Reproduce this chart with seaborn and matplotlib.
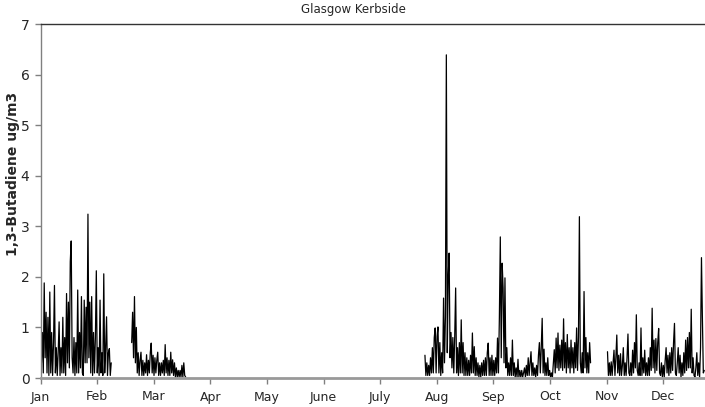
import numpy as np
import pandas as pd
import matplotlib
matplotlib.use("Agg")
import matplotlib.pyplot as plt
import seaborn as sns

# ---- data (values in ug/m3, half-day samples) ----
months = ["Jan", "Feb", "Mar", "Apr", "May", "June", "July",
          "Aug", "Sep", "Oct", "Nov", "Dec"]
yticks = [0, 1, 2, 3, 4, 5, 6, 7]

block_start_days = [0.5, 49.0, 206.6, 304.7]
sample_step_days = 0.5

jan_feb = [0.3, 0.9, 0.1, 1.88, 0.4, 1.3, 0.1, 1.2, 0.05, 1.70,
           0.1, 0.9, 0.05, 0.7, 1.83, 0.1, 0.6, 0.05, 0.5, 1.11,
           0.05, 0.6, 0.1, 1.2, 0.1, 0.8, 0.05, 1.67, 0.3, 1.5,
           0.2, 2.3, 2.71, 0.4, 0.1, 0.8, 0.05, 0.7, 0.1, 1.74,
           0.1, 0.9, 0.2, 1.61, 0.1, 0.05, 1.54, 0.3, 1.4, 0.3,
           3.24, 0.4, 1.5, 0.1, 1.61, 0.05, 0.9, 0.1, 0.8, 2.12,
           0.1, 0.6, 0.05, 1.54, 0.1, 0.5, 0.05, 2.06, 0.1, 0.6,
           1.21, 0.05, 0.5, 0.58, 0.05, 0.3]

feb_mar = [0.7, 1.3, 0.4, 1.61, 0.3, 1.0, 0.1, 0.5, 0.05, 0.35,
           0.51, 0.05, 0.35, 0.05, 0.3, 0.1, 0.46, 0.05, 0.35, 0.1,
           0.5, 0.69, 0.1, 0.45, 0.05, 0.4, 0.1, 0.35, 0.51, 0.05,
           0.3, 0.05, 0.3, 0.1, 0.35, 0.05, 0.66, 0.1, 0.4, 0.05,
           0.35, 0.05, 0.51, 0.1, 0.36, 0.05, 0.3, 0.02, 0.2, 0.02,
           0.15, 0.02, 0.15, 0.02, 0.25, 0.02, 0.3, 0.05, 0.02]

jul_oct = [0.45, 0.05, 0.3, 0.05, 0.25, 0.05, 0.4, 0.1, 0.6, 0.1,
           0.8, 0.99, 0.1, 0.82, 1.01, 0.1, 0.7, 0.05, 0.5, 0.1,
           1.58, 0.3, 1.2, 6.39, 0.5, 2.0, 2.47, 0.4, 0.9, 0.2,
           0.8, 0.1, 0.82, 1.78, 0.1, 0.6, 0.05, 0.7, 0.1, 1.15,
           0.1, 0.7, 0.05, 0.5, 0.05, 0.4, 0.05, 0.35, 0.05, 0.45,
           0.1, 0.89, 0.1, 0.62, 0.05, 0.4, 0.05, 0.3, 0.02, 0.25,
           0.02, 0.3, 0.05, 0.35, 0.05, 0.4, 0.05, 0.5, 0.69, 0.05,
           0.4, 0.05, 0.45, 0.05, 0.35, 0.05, 0.4, 0.1, 0.79, 0.1,
           1.2, 2.79, 0.4, 2.27, 1.78, 0.3, 1.98, 0.2, 0.6, 0.05,
           0.3, 0.05, 0.4, 0.05, 0.75, 0.05, 0.3, 0.02, 0.2, 0.02,
           0.37, 0.02, 0.15, 0.02, 0.15, 0.02, 0.1, 0.2, 0.02, 0.25,
           0.05, 0.4, 0.05, 0.3, 0.52, 0.05, 0.3, 0.05, 0.2, 0.02,
           0.25, 0.05, 0.45, 0.7, 0.1, 0.6, 1.18, 0.1, 0.57, 0.05,
           0.3, 0.05, 0.4, 0.05, 0.15, 0.02, 0.1, 0.02, 0.3, 0.56,
           0.1, 0.79, 0.2, 0.89, 0.15, 0.65, 0.2, 0.75, 0.15, 1.17,
           0.2, 0.7, 0.1, 0.86, 0.2, 0.6, 0.1, 0.75, 0.2, 0.6,
           0.1, 0.7, 0.2, 0.99, 0.15, 0.8, 3.19, 0.3, 0.1, 0.5,
           0.1, 1.71, 0.2, 0.8, 0.1, 0.5, 0.1, 0.7, 0.3]

nov_dec = [0.52, 0.05, 0.3, 0.05, 0.32, 0.05, 0.3, 0.55, 0.05, 0.4,
           0.85, 0.1, 0.45, 0.05, 0.48, 0.05, 0.25, 0.6, 0.05, 0.3,
           0.05, 0.4, 0.87, 0.1, 0.05, 0.3, 0.05, 0.55, 0.1, 0.7,
           0.2, 1.25, 0.15, 0.05, 0.3, 0.05, 0.99, 0.05, 0.4, 0.1,
           0.55, 0.05, 0.3, 0.05, 0.4, 0.05, 0.6, 0.15, 1.38, 0.2,
           0.75, 0.1, 0.78, 0.15, 0.7, 0.98, 0.1, 0.05, 0.3, 0.02,
           0.25, 0.02, 0.35, 0.6, 0.1, 0.45, 0.05, 0.5, 0.1, 0.6,
           0.15, 0.7, 1.08, 0.1, 0.05, 0.3, 0.6, 0.1, 0.45, 0.02,
           0.3, 0.05, 0.5, 0.1, 0.75, 0.15, 0.8, 0.2, 0.9, 0.2,
           1.36, 0.1, 0.4, 0.05, 0.02, 0.2, 0.5, 0.05, 0.3, 0.02,
           0.6, 2.38, 1.19, 0.1, 0.15]

blocks = [jan_feb, feb_mar, jul_oct, nov_dec]

# ---- build a long table ----
frames = []
for k, (start, vals) in enumerate(zip(block_start_days, blocks)):
    days = start + sample_step_days * np.arange(len(vals))
    frames.append(pd.DataFrame({"day": days, "value": vals, "block": k}))
df = pd.concat(frames, ignore_index=True)

# ---- figure ----
sns.set_style("white")
plt.rcParams["font.family"] = ["DejaVu Sans"]

W, H = 705, 407
fig = plt.figure(figsize=(W / 100, H / 100), dpi=100)
ax = fig.add_axes([40.5 / W, (H - 378) / H, (705 - 40.5) / W, (378 - 24) / H])

for k in range(len(blocks)):
    sns.lineplot(data=df[df["block"] == k], x="day", y="value",
                 color="black", linewidth=0.9, estimator=None, ax=ax,
                 legend=False)

month_len = 365 / 12
ax.set_xlim(0, (705 - 40.5) / (56.6 / month_len))
ax.set_ylim(0, 7)
ax.set_xticks([i * month_len for i in range(12)])
ax.set_xticklabels(months, fontsize=9)
ax.set_yticks(yticks)
ax.set_yticklabels([str(v) for v in yticks], fontsize=10)
ax.set_xlabel("")
ax.set_ylabel("1,3-Butadiene ug/m3", fontsize=10, fontweight="bold")
ax.yaxis.set_label_coords(-0.031, 0.576)

ax.tick_params(axis="both", direction="out", length=4, width=1,
               color="#808080", bottom=True, left=True)
ax.tick_params(axis="x", pad=5)
ax.tick_params(axis="y", pad=4)

for side in ["left", "bottom", "top"]:
    ax.spines[side].set_visible(True)
ax.spines["right"].set_visible(False)
ax.spines["left"].set_color("#808080")
ax.spines["left"].set_linewidth(1.0)
ax.spines["bottom"].set_color("#999999")
ax.spines["bottom"].set_linewidth(2.0)
ax.spines["top"].set_color("#333333")
ax.spines["top"].set_linewidth(1.0)

fig.text(353 / W, 1 - 10 / H, "Glasgow Kerbside", ha="center", va="center",
         fontsize=8.5)

fig.savefig("out.png", dpi=100)
